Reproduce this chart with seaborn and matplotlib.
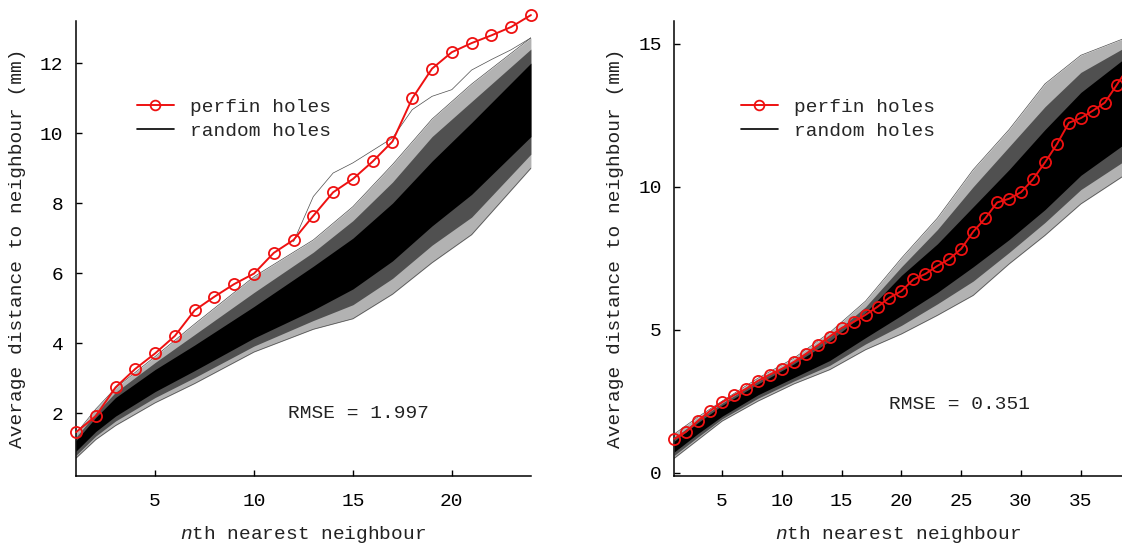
import numpy as np
import pandas as pd
import matplotlib
matplotlib.use("Agg")
import matplotlib.pyplot as plt
import seaborn as sns
from matplotlib.lines import Line2D

# perfin holes (red line)
left_n = list(range(1, 25))
left_perfin = [1.46, 1.92, 2.74, 3.27, 3.71, 4.21, 4.94, 5.33, 5.69, 5.99, 6.58, 6.95,
               7.64, 8.31, 8.69, 9.19, 9.76, 10.99, 11.84, 12.31, 12.57, 12.79, 13.03, 13.37]
right_n = list(range(1, 40))
right_perfin = [1.18, 1.43, 1.82, 2.16, 2.46, 2.71, 2.93, 3.21, 3.43, 3.63, 3.87, 4.15, 4.45,
                4.76, 5.06, 5.27, 5.52, 5.80, 6.12, 6.35, 6.76, 6.95, 7.23, 7.47, 7.83, 8.43,
                8.89, 9.45, 9.58, 9.81, 10.26, 10.85, 11.49, 12.24, 12.40, 12.66, 12.94, 13.56, 14.2]

# random holes bundle: outer fringe, middle and dense core
left_env_n = [1, 2, 3, 5, 7, 10, 13, 15, 17, 19, 21, 24]
left_lo_outer = [0.72, 1.25, 1.65, 2.30, 2.85, 3.75, 4.40, 4.70, 5.40, 6.30, 7.10, 9.00]
left_lo_mid = [0.80, 1.35, 1.78, 2.45, 3.02, 3.92, 4.65, 5.10, 5.85, 6.80, 7.60, 9.40]
left_lo_core = [0.92, 1.48, 1.92, 2.62, 3.22, 4.15, 4.95, 5.55, 6.35, 7.35, 8.25, 9.90]
left_hi_core = [1.22, 1.88, 2.45, 3.25, 3.95, 5.05, 6.20, 7.00, 8.00, 9.20, 10.30, 12.00]
left_hi_mid = [1.32, 2.00, 2.60, 3.45, 4.25, 5.45, 6.60, 7.50, 8.60, 9.90, 10.90, 12.40]
left_hi_outer = [1.42, 2.12, 2.72, 3.62, 4.55, 5.90, 6.95, 7.90, 9.10, 10.40, 11.40, 12.72]
# one stray simulation running above the rest
left_stray_n = [12, 13, 14, 15, 17, 18, 19, 20, 21, 22, 23, 24]
left_stray = [6.90, 8.19, 8.86, 9.15, 9.86, 10.67, 11.05, 11.24, 11.80, 12.10, 12.38, 12.72]

right_env_n = [1, 3, 5, 8, 11, 14, 17, 20, 23, 26, 29, 32, 35, 39]
right_lo_outer = [0.50, 1.15, 1.80, 2.50, 3.10, 3.60, 4.30, 4.85, 5.50, 6.20, 7.30, 8.30, 9.40, 10.50]
right_lo_mid = [0.60, 1.25, 1.88, 2.60, 3.20, 3.75, 4.50, 5.15, 5.90, 6.70, 7.70, 8.75, 9.90, 11.00]
right_lo_core = [0.72, 1.37, 1.97, 2.72, 3.32, 3.92, 4.72, 5.50, 6.30, 7.20, 8.15, 9.20, 10.40, 11.60]
right_hi_core = [1.10, 1.75, 2.35, 3.10, 3.80, 4.60, 5.60, 6.90, 8.00, 9.30, 10.60, 12.00, 13.30, 14.60]
right_hi_mid = [1.22, 1.85, 2.43, 3.20, 3.90, 4.75, 5.80, 7.20, 8.50, 10.00, 11.40, 12.80, 14.00, 14.95]
right_hi_outer = [1.35, 1.95, 2.50, 3.30, 4.00, 4.90, 6.00, 7.50, 8.90, 10.60, 12.00, 13.60, 14.60, 15.25]

rmse_labels = ["RMSE = 1.997", "RMSE = 0.351"]

sns.set_style("ticks")
plt.rcParams["font.family"] = ["Liberation Mono", "DejaVu Sans Mono"]
plt.rcParams["mathtext.fontset"] = "custom"
plt.rcParams["mathtext.it"] = "Liberation Mono:italic"
plt.rcParams["mathtext.rm"] = "Liberation Mono"
plt.rcParams["font.size"] = 14

fig = plt.figure(figsize=(11.22, 5.44), dpi=100)
ax1 = fig.add_axes([0.0677, 0.125, 0.4055, 0.837])
ax2 = fig.add_axes([0.6009, 0.125, 0.3991, 0.837])

panels = [
    dict(ax=ax1, n=left_n, perfin=left_perfin,
         env=pd.DataFrame({"n": left_env_n, "lo_o": left_lo_outer, "lo_m": left_lo_mid, "lo_c": left_lo_core,
                           "hi_c": left_hi_core, "hi_m": left_hi_mid, "hi_o": left_hi_outer}),
         stray=pd.DataFrame({"n": left_stray_n, "d": left_stray}),
         xlim=(1, 24), ylim=(0.21, 13.21), xt=[5, 10, 15, 20], yt=[2, 4, 6, 8, 10, 12],
         txt=(11.7, 2.0), leg_x=0.134),
    dict(ax=ax2, n=right_n, perfin=right_perfin,
         env=pd.DataFrame({"n": right_env_n, "lo_o": right_lo_outer, "lo_m": right_lo_mid, "lo_c": right_lo_core,
                           "hi_c": right_hi_core, "hi_m": right_hi_mid, "hi_o": right_hi_outer}),
         stray=None,
         xlim=(1, 38.44), ylim=(-0.12, 15.81), xt=[5, 10, 15, 20, 25, 30, 35], yt=[0, 5, 10, 15],
         txt=(18.96, 2.39), leg_x=0.149),
]

for i, p in enumerate(panels):
    ax = p["ax"]
    env = p["env"]
    ax.fill_between(env["n"], env["lo_o"], env["hi_o"], color="black", alpha=0.3, lw=0)
    ax.fill_between(env["n"], env["lo_m"], env["hi_m"], color="black", alpha=0.55, lw=0)
    ax.fill_between(env["n"], env["lo_c"], env["hi_c"], color="black", lw=0)
    sns.lineplot(data=env, x="n", y="lo_o", ax=ax, color="0.3", lw=0.5)
    sns.lineplot(data=env, x="n", y="hi_o", ax=ax, color="0.3", lw=0.5)
    if p["stray"] is not None:
        sns.lineplot(data=p["stray"], x="n", y="d", ax=ax, color="0.3", lw=0.5)

    df = pd.DataFrame({"n": p["n"], "d": p["perfin"]})
    sns.lineplot(data=df, x="n", y="d", ax=ax, color="#ee1111", lw=1.4, marker="o",
                 markersize=8, markerfacecolor="none", markeredgecolor="#ee1111",
                 markeredgewidth=1.3, clip_on=False, zorder=5)

    ax.set_xlim(*p["xlim"])
    ax.set_ylim(*p["ylim"])
    ax.set_xticks(p["xt"])
    ax.set_yticks(p["yt"])
    ax.tick_params(direction="in", length=4, width=1, colors="black", labelsize=14)
    ax.tick_params(axis="x", pad=12)
    ax.tick_params(axis="y", pad=9)
    for s in ["top", "right"]:
        ax.spines[s].set_visible(False)
    for s in ["left", "bottom"]:
        ax.spines[s].set_linewidth(1.1)
        ax.spines[s].set_color("black")
    ax.set_xlabel("$n$th nearest neighbour", fontsize=14, labelpad=10, color="#222222")
    ax.set_ylabel("Average distance to neighbour (mm)", fontsize=14, labelpad=10, color="#222222")
    ax.text(p["txt"][0], p["txt"][1], rmse_labels[i], fontsize=14, va="center", ha="left", color="#222222")

    handles = [Line2D([], [], color="#ee1111", lw=1.4, marker="o", markersize=7,
                      markerfacecolor="none", markeredgewidth=1.3),
               Line2D([], [], color="black", lw=1.2)]
    ax.legend(handles, ["perfin holes", "random holes"], loc="center left",
              bbox_to_anchor=(p["leg_x"], 0.784), frameon=False, borderpad=0, borderaxespad=0,
              handlelength=1.9, handletextpad=0.85, labelspacing=0.35, fontsize=14)

fig.savefig("out.png", dpi=100)
